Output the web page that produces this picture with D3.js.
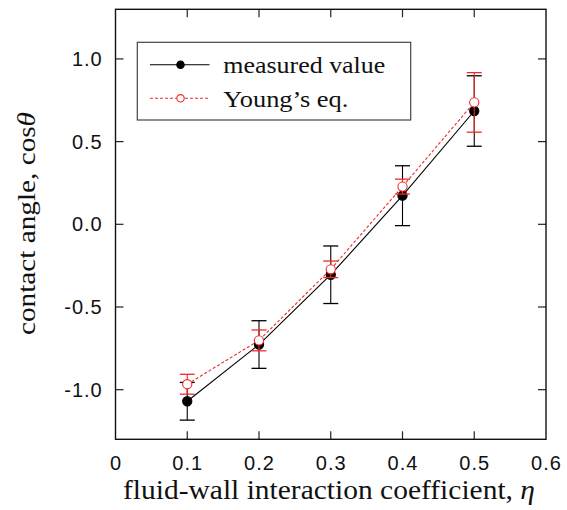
<!DOCTYPE html>
<html><head><meta charset="utf-8">
<script src="https://cdn.jsdelivr.net/npm/d3@7"></script>
<style>body{margin:0;background:#fff}</style>
</head><body>
<svg id="c" width="567" height="510"></svg>
<script>
const xVals = [0.1, 0.2, 0.3, 0.4, 0.5];
const measured = [-1.07, -0.727, -0.305, 0.173, 0.685];
const measuredErr = [0.114, 0.144, 0.174, 0.181, 0.213];
const young = [-0.967, -0.702, -0.272, 0.228, 0.737];
const youngErr = [0.06, 0.063, 0.05, 0.045, 0.18];
const xTicks = [0, 0.1, 0.2, 0.3, 0.4, 0.5, 0.6];
const yTicks = [-1.0, -0.5, 0.0, 0.5, 1.0];
const seriesNames = ["measured value", "Young\u2019s eq."];

const svg = d3.select("#c");
const L = 115.5, R = 546, T = 9.3, B = 439.3;
const x = d3.scaleLinear().domain([0, 0.6]).range([L, R]);
const y = d3.scaleLinear().domain([-1.3, 1.3]).range([B, T]);
const RED = "#ee2a2a";
const sans = "'Liberation Sans', Arial, sans-serif";
const serif = "'Liberation Serif', 'Times New Roman', serif";

// ticks (inward, mirrored)
const tk = 8;
const g = svg.append("g").attr("stroke", "#222").attr("stroke-width", 1.2);
xTicks.slice(1, -1).forEach(v => {
  g.append("line").attr("x1", x(v)).attr("x2", x(v)).attr("y1", B).attr("y2", B - tk);
  g.append("line").attr("x1", x(v)).attr("x2", x(v)).attr("y1", T).attr("y2", T + tk);
});
yTicks.forEach(v => {
  g.append("line").attr("x1", L).attr("x2", L + tk).attr("y1", y(v)).attr("y2", y(v));
  g.append("line").attr("x1", R).attr("x2", R - tk).attr("y1", y(v)).attr("y2", y(v));
});
svg.append("rect").attr("x", L).attr("y", T).attr("width", R - L).attr("height", B - T)
  .attr("fill", "none").attr("stroke", "#111").attr("stroke-width", 1.4);

// tick labels
const fmtX = v => v === 0 ? "0" : v.toFixed(1);
const fmtY = v => v.toFixed(1).replace("\u2212", "-");
svg.append("g").selectAll("text").data(xTicks).join("text")
  .attr("x", d => x(d) + 0.5).attr("y", 470).attr("text-anchor", "middle")
  .attr("font-family", sans).attr("font-size", 20).attr("letter-spacing", 1)
  .attr("fill", "#111").text(fmtX);
svg.append("g").selectAll("text").data(yTicks).join("text")
  .attr("x", 102.7).attr("y", d => y(d) + 7).attr("text-anchor", "end")
  .attr("font-family", sans).attr("font-size", 20).attr("letter-spacing", 1)
  .attr("fill", "#111").text(fmtY);

// axis titles
const xt = svg.append("text").attr("x", 123).attr("y", 499)
  .attr("textLength", 412).attr("lengthAdjust", "spacingAndGlyphs")
  .attr("font-family", serif).attr("font-size", 27).attr("fill", "#111");
xt.append("tspan").text("fluid-wall interaction coefficient, ");
xt.append("tspan").attr("font-style", "italic").text("\u03b7");
const yt = svg.append("text").attr("transform", "translate(35,335) rotate(-90)")
  .attr("textLength", 223).attr("lengthAdjust", "spacingAndGlyphs")
  .attr("font-family", serif).attr("font-size", 25).attr("fill", "#111");
yt.append("tspan").text("contact angle, cos");
yt.append("tspan").attr("font-style", "italic").text("\u03b8");

// series
function drawSeries(vals, errs, color, dashed, filled) {
  const gg = svg.append("g");
  const line = d3.line().x((d, i) => x(xVals[i])).y(d => y(d));
  gg.append("path").datum(vals).attr("d", line).attr("fill", "none")
    .attr("stroke", color).attr("stroke-width", 1.1).attr("stroke-dasharray", dashed ? "3,2" : null);
  vals.forEach((v, i) => {
    const cx = x(xVals[i]);
    gg.append("line").attr("x1", cx).attr("x2", cx).attr("y1", y(v - errs[i])).attr("y2", y(v + errs[i]))
      .attr("stroke", color).attr("stroke-width", 1.1);
    [v - errs[i], v + errs[i]].forEach(e => {
      gg.append("line").attr("x1", cx - 7.5).attr("x2", cx + 7.5).attr("y1", y(e)).attr("y2", y(e))
        .attr("stroke", color).attr("stroke-width", 1.3);
    });
  });
  gg.selectAll("circle").data(vals).join("circle")
    .attr("cx", (d, i) => x(xVals[i])).attr("cy", d => y(d)).attr("r", 4.6)
    .attr("fill", filled ? "#000" : "#fff").attr("stroke", color).attr("stroke-width", 1.1);
}
drawSeries(measured, measuredErr, "#000", false, true);
drawSeries(young, youngErr, RED, true, false);

// legend
const lg = svg.append("g");
lg.append("rect").attr("x", 137.3).attr("y", 42.3).attr("width", 273.4).attr("height", 77.7)
  .attr("fill", "#fff").attr("stroke", "#444").attr("stroke-width", 1.2);
const rows = [
  {name: seriesNames[0], color: "#000", dash: null, fill: "#000", yy: 64.7, len: 162},
  {name: seriesNames[1], color: RED, dash: "3,2", fill: "#fff", yy: 98.3, len: 125}
];
rows.forEach(r => {
  lg.append("line").attr("x1", 150).attr("x2", 209.5).attr("y1", r.yy).attr("y2", r.yy)
    .attr("stroke", r.color).attr("stroke-width", 1.1).attr("stroke-dasharray", r.dash);
  lg.append("circle").attr("cx", 180.5).attr("cy", r.yy).attr("r", 3.7)
    .attr("fill", r.fill).attr("stroke", r.color).attr("stroke-width", 1.1);
  lg.append("text").attr("x", 223.3).attr("y", r.yy + 8.5).attr("font-family", serif)
    .attr("textLength", r.len).attr("lengthAdjust", "spacingAndGlyphs")
    .attr("font-size", 24).attr("fill", "#111").text(r.name);
});
</script>
</body></html>
